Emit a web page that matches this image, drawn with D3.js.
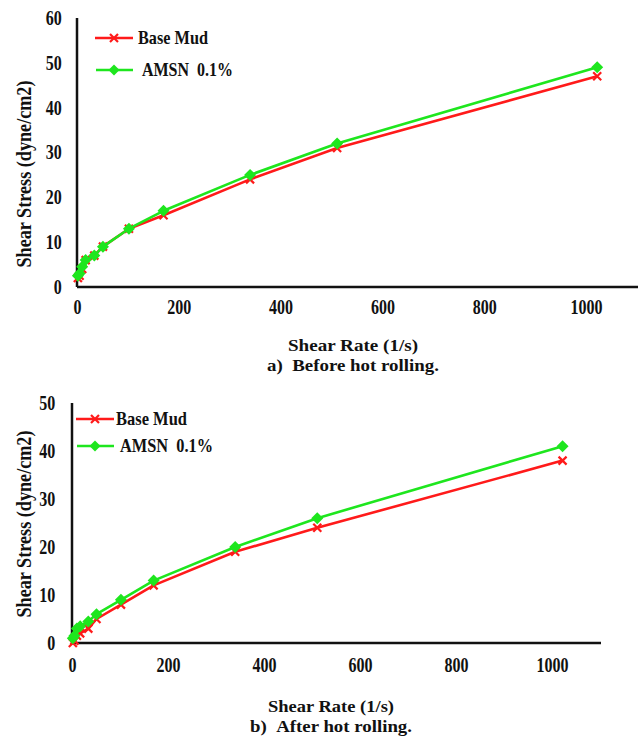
<!DOCTYPE html>
<html>
<head>
<meta charset="utf-8">
<script src="https://cdn.jsdelivr.net/npm/d3@7"></script>
<style>
  body { margin: 0; background: #fff; }
</style>
</head>
<body>
<svg id="chart" width="640" height="737"></svg>
<script>
// shear rates (1/s) from the viscometer speeds
const shearRate = [1.7, 5.1, 10.2, 17, 34, 51, 102, 170, 340, 511, 1022];

// a) before hot rolling
const baseBefore = [2, 2.5, 4, 6, 7, 9, 13, 16, 24, 31, 47];
const amsnBefore = [2.5, 3, 4.5, 6, 7, 9, 13, 17, 25, 32, 49];

// b) after hot rolling
const baseAfter = [0, 0.5, 1.5, 2, 3, 5, 8, 12, 19, 24, 38];
const amsnAfter = [1, 1.5, 3, 3.5, 4.5, 6, 9, 13, 20, 26, 41];

const xTicks = [0, 200, 400, 600, 800, 1000];
const seriesNames = ["Base Mud", "AMSN\u00a0\u00a00.1%"];
const RED = "#ff1a1a", GREEN = "#1ee61e";
const FONT = "Liberation Serif";

const svg = d3.select("#chart");

// texts in the picture are squeezed sideways, so fit them to the measured width
function txt(sel, size, w) {
  const t = sel.append("text")
    .attr("font-family", FONT)
    .attr("font-weight", "bold")
    .attr("font-size", size)
    .attr("fill", "#111");
  if (w) t.attr("textLength", w).attr("lengthAdjust", "spacingAndGlyphs");
  return t;
}

function drawPanel(cfg) {
  const g = svg.append("g");
  const x = d3.scaleLinear().domain([0, 1000]).range([cfg.x0, cfg.x1000]);
  const y = d3.scaleLinear().domain([0, cfg.yMax]).range([cfg.yBottom, cfg.yTop]);

  // axes
  const xAxis = g.append("g")
    .attr("transform", `translate(0,${cfg.yBottom})`)
    .call(d3.axisBottom(x).tickValues(xTicks).tickFormat(d3.format("d")).tickSize(0).tickPadding(cfg.xPad));
  xAxis.select(".domain").remove();
  g.append("line")
    .attr("x1", cfg.x0).attr("x2", cfg.xEnd)
    .attr("y1", cfg.yBottom).attr("y2", cfg.yBottom)
    .attr("stroke", "#111").attr("stroke-width", 2.5);

  const yAxis = g.append("g")
    .attr("transform", `translate(${cfg.x0},0)`)
    .call(d3.axisLeft(y).ticks(cfg.yMax / 10).tickSize(0).tickPadding(cfg.yPad));
  yAxis.select(".domain").remove();
  g.append("line")
    .attr("x1", cfg.x0).attr("x2", cfg.x0)
    .attr("y1", cfg.yTop).attr("y2", cfg.yBottom)
    .attr("stroke", "#111").attr("stroke-width", 2.5);

  [xAxis, yAxis].forEach(a => a.attr("font-family", FONT).attr("font-size", 20).attr("font-weight", "bold"));
  g.selectAll(".tick text")
    .attr("font-family", FONT)
    .attr("font-weight", "bold")
    .attr("font-size", 20)
    .attr("fill", "#111")
    .attr("transform", "scale(0.8,1)");

  const line = d3.line().x(d => x(d[0])).y(d => y(d[1]));

  const series = [
    { vals: cfg.base, color: RED, mark: "x" },
    { vals: cfg.amsn, color: GREEN, mark: "d" }
  ];

  series.forEach(s => {
    const pts = shearRate.map((r, i) => [r, s.vals[i]]);
    g.append("path").datum(pts)
      .attr("d", line)
      .attr("fill", "none")
      .attr("stroke", s.color)
      .attr("stroke-width", 2.6)
      .attr("stroke-linejoin", "round");
    if (s.mark === "x") {
      g.selectAll(null).data(pts).enter().append("path")
        .attr("transform", d => `translate(${x(d[0])},${y(d[1])})`)
        .attr("d", "M-4,-4L4,4M-4,4L4,-4")
        .attr("stroke", s.color).attr("stroke-width", 2.2);
    } else {
      g.selectAll(null).data(pts).enter().append("path")
        .attr("transform", d => `translate(${x(d[0])},${y(d[1])})`)
        .attr("d", "M0,-6L6,0L0,6L-6,0Z")
        .attr("fill", s.color);
    }
  });

  // legend
  const leg = cfg.legend;
  g.append("line").attr("x1", leg.x).attr("x2", leg.x + 38)
    .attr("y1", leg.y1).attr("y2", leg.y1)
    .attr("stroke", RED).attr("stroke-width", 2.6);
  g.append("path")
    .attr("transform", `translate(${leg.x + 19},${leg.y1})`)
    .attr("d", "M-4,-4L4,4M-4,4L4,-4")
    .attr("stroke", RED).attr("stroke-width", 2.2);
  txt(g, 19, leg.w1).attr("x", leg.tx1).attr("y", leg.y1 + 6)
    .text(seriesNames[0]);

  g.append("line").attr("x1", leg.x + 1).attr("x2", leg.x + 38)
    .attr("y1", leg.y2).attr("y2", leg.y2)
    .attr("stroke", GREEN).attr("stroke-width", 2.6);
  g.append("path")
    .attr("transform", `translate(${leg.x + 19},${leg.y2})`)
    .attr("d", "M0,-5.5L5.5,0L0,5.5L-5.5,0Z")
    .attr("fill", GREEN);
  txt(g, 19, leg.w2).attr("x", leg.tx2).attr("y", leg.y2 + 6)
    .text(seriesNames[1]);

  // titles
  txt(g, 20, 187)
    .attr("transform", `translate(${cfg.yTitleX},${cfg.yTitleY}) rotate(-90)`)
    .attr("text-anchor", "middle")
    .text("Shear Stress (dyne/cm2)");
  txt(g, 17, cfg.xTitleW)
    .attr("x", cfg.xTitleX).attr("y", cfg.xTitleY)
    .attr("text-anchor", "middle")
    .text("Shear Rate (1/s)");
  txt(g, 17, cfg.capW)
    .attr("x", cfg.xTitleX).attr("y", cfg.xTitleY + 20)
    .attr("text-anchor", "middle")
    .text(cfg.caption);
}

drawPanel({
  x0: 77, x1000: 586, xEnd: 638,
  yTop: 18, yBottom: 287, yMax: 60,
  xPad: 13, yPad: 19,
  base: baseBefore, amsn: amsnBefore,
  legend: { x: 95, y1: 38, y2: 70, tx1: 138, w1: 70, tx2: 142, w2: 91 },
  yTitleX: 31, yTitleY: 174,
  xTitleX: 353, xTitleY: 351, xTitleW: 130, capW: 172,
  caption: "a)\u00a0\u00a0Before hot rolling."
});

drawPanel({
  x0: 72, x1000: 552, xEnd: 601,
  yTop: 403, yBottom: 643, yMax: 50,
  xPad: 15, yPad: 21,
  base: baseAfter, amsn: amsnAfter,
  legend: { x: 76, y1: 419, y2: 446, tx1: 116, w1: 71, tx2: 120, w2: 93 },
  yTitleX: 31, yTitleY: 524,
  xTitleX: 331, xTitleY: 712, xTitleW: 126, capW: 162,
  caption: "b)\u00a0\u00a0After hot rolling."
});
</script>
</body>
</html>
